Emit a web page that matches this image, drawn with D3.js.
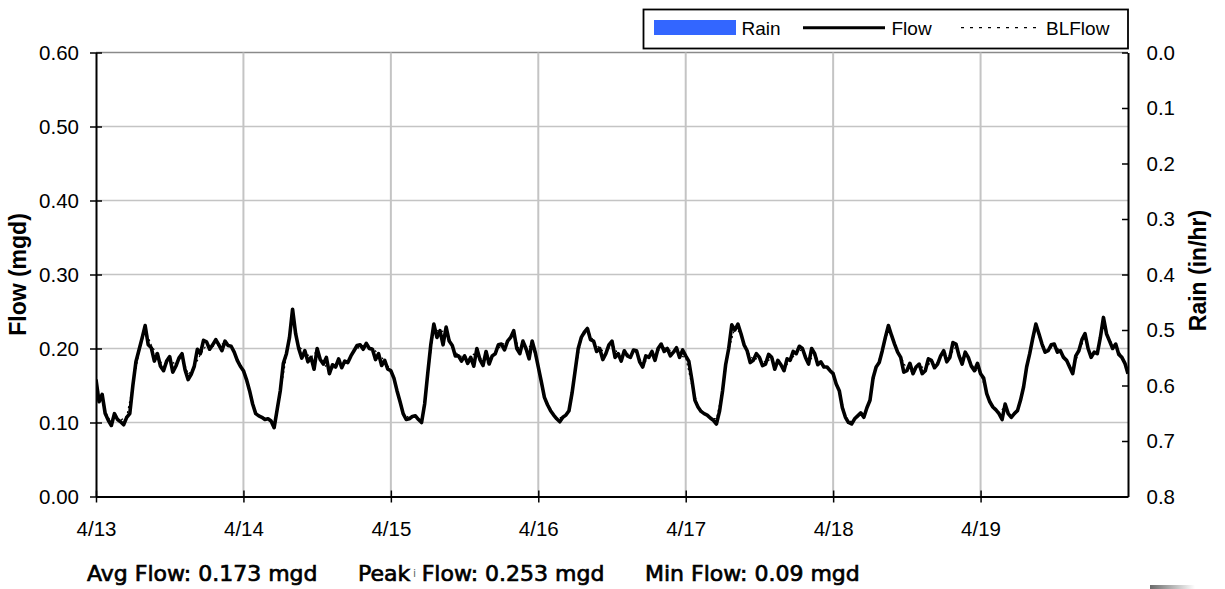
<!DOCTYPE html>
<html><head><meta charset="utf-8">
<script src="https://cdn.jsdelivr.net/npm/d3@7"></script>
<style>body{margin:0;background:#fff}svg{display:block}</style>
</head><body>
<svg id="c" width="1225" height="589"></svg>
<script>
// ---------------- DATA ----------------
const dayLabels = ["4/13","4/14","4/15","4/16","4/17","4/18","4/19"];
const flowTicks = [0.00,0.10,0.20,0.30,0.40,0.50,0.60];
const rainTicks = [0.0,0.1,0.2,0.3,0.4,0.5,0.6,0.7,0.8];
const seriesNames = ["Rain","Flow","BLFlow"];
const statTexts = ["Avg Flow: 0.173 mgd","Peak","Flow: 0.253 mgd","Min Flow: 0.09 mgd"];

// Flow (mgd), 30-minute readings per day
const flowDay1 = [0.158,0.128,0.138,0.112,0.103,0.096,0.112,0.104,0.101,0.097,0.107,0.112,
  0.150,0.182,0.198,0.214,0.231,0.205,0.201,0.183,0.193,0.176,0.170,0.183,
  0.189,0.168,0.176,0.187,0.193,0.171,0.158,0.165,0.176,0.199,0.193,0.211,
  0.209,0.199,0.205,0.212,0.205,0.197,0.210,0.204,0.203,0.195,0.184,0.176];
const flowDay2 = [0.170,0.158,0.143,0.125,0.112,0.109,0.107,0.104,0.105,0.102,0.093,0.118,
  0.143,0.180,0.193,0.215,0.253,0.220,0.200,0.187,0.197,0.182,0.188,0.172,
  0.200,0.185,0.179,0.188,0.166,0.178,0.175,0.186,0.174,0.183,0.181,0.190,
  0.197,0.204,0.205,0.199,0.207,0.200,0.199,0.185,0.193,0.177,0.184,0.172];
const flowDay3 = [0.170,0.160,0.143,0.128,0.112,0.104,0.105,0.108,0.109,0.104,0.100,0.125,
  0.166,0.205,0.233,0.215,0.224,0.205,0.229,0.210,0.204,0.190,0.190,0.183,
  0.190,0.180,0.188,0.176,0.200,0.185,0.177,0.196,0.179,0.190,0.193,0.205,
  0.206,0.198,0.210,0.215,0.224,0.200,0.193,0.210,0.200,0.186,0.210,0.195];
const flowDay4 = [0.175,0.155,0.134,0.124,0.116,0.110,0.105,0.101,0.107,0.110,0.116,0.140,
  0.170,0.200,0.215,0.222,0.227,0.212,0.210,0.196,0.200,0.185,0.193,0.205,
  0.210,0.188,0.193,0.183,0.197,0.190,0.188,0.198,0.197,0.182,0.175,0.190,
  0.188,0.196,0.184,0.200,0.206,0.196,0.200,0.190,0.195,0.201,0.188,0.198];
const flowDay5 = [0.190,0.183,0.158,0.130,0.121,0.115,0.112,0.110,0.106,0.103,0.098,0.115,
  0.143,0.178,0.200,0.232,0.225,0.233,0.220,0.205,0.197,0.181,0.184,0.193,
  0.188,0.177,0.179,0.192,0.188,0.172,0.184,0.178,0.170,0.186,0.184,0.196,
  0.193,0.203,0.200,0.188,0.179,0.200,0.193,0.178,0.182,0.175,0.175,0.170];
const flowDay6 = [0.166,0.152,0.143,0.120,0.107,0.100,0.098,0.105,0.109,0.113,0.107,0.120,
  0.130,0.160,0.175,0.181,0.197,0.215,0.231,0.218,0.206,0.195,0.188,0.168,
  0.170,0.180,0.166,0.175,0.179,0.166,0.170,0.186,0.184,0.174,0.179,0.190,
  0.197,0.182,0.188,0.208,0.206,0.190,0.179,0.195,0.188,0.176,0.170,0.180];
const flowDay7 = [0.166,0.160,0.139,0.128,0.121,0.117,0.112,0.104,0.125,0.112,0.107,0.112,
  0.116,0.130,0.148,0.175,0.193,0.214,0.233,0.220,0.206,0.195,0.197,0.205,
  0.206,0.195,0.197,0.188,0.184,0.175,0.166,0.190,0.197,0.212,0.220,0.200,
  0.188,0.195,0.193,0.215,0.242,0.220,0.210,0.200,0.206,0.192,0.188,0.180,0.166];

// Baseline flow (mgd), hourly per day
const blDay1 = [0.150,0.130,0.105,0.108,0.103,0.108,0.150,0.195,0.225,0.205,0.190,0.175,0.185,0.178,0.190,0.165,0.175,0.192,0.205,0.203,0.205,0.207,0.203,0.185];
const blDay2 = [0.170,0.145,0.113,0.107,0.105,0.098,0.140,0.190,0.240,0.203,0.195,0.188,0.197,0.180,0.170,0.176,0.177,0.182,0.196,0.203,0.205,0.200,0.193,0.183];
const blDay3 = [0.170,0.143,0.113,0.106,0.108,0.102,0.163,0.228,0.222,0.225,0.203,0.190,0.189,0.187,0.198,0.180,0.181,0.193,0.205,0.209,0.220,0.196,0.200,0.205];
const blDay4 = [0.176,0.135,0.116,0.106,0.107,0.116,0.170,0.213,0.225,0.210,0.200,0.194,0.207,0.192,0.196,0.190,0.196,0.178,0.188,0.187,0.204,0.199,0.196,0.190];
const blDay5 = [0.188,0.150,0.122,0.112,0.106,0.105,0.143,0.198,0.228,0.220,0.196,0.185,0.187,0.181,0.187,0.182,0.173,0.184,0.194,0.199,0.182,0.192,0.178,0.174];
const blDay6 = [0.167,0.143,0.108,0.100,0.108,0.110,0.130,0.174,0.197,0.226,0.205,0.189,0.172,0.168,0.178,0.172,0.183,0.180,0.195,0.190,0.203,0.183,0.188,0.172];
const blDay7 = [0.166,0.140,0.122,0.113,0.122,0.108,0.117,0.150,0.193,0.228,0.205,0.197,0.205,0.196,0.185,0.170,0.196,0.215,0.190,0.195,0.235,0.210,0.205,0.188,0.168];

// Rain (in/hr), daily – no rain in the period
const rainDaily = [0,0,0,0,0,0,0];

// ---------------- BUILD ----------------
const flowAll = [].concat(flowDay1,flowDay2,flowDay3,flowDay4,flowDay5,flowDay6,flowDay7)
  .map((v,i)=>({h:i*0.5, v}));
const blAll = [].concat(blDay1,blDay2,blDay3,blDay4,blDay5,blDay6,blDay7)
  .map((v,i)=>({h:i, v}));

const L=96, R=1128, T=52.5, B=496.5;
const svg = d3.select("#c");
const x = d3.scaleLinear().domain([0,168]).range([L,R]);
const y = d3.scaleLinear().domain([0,0.6]).range([B,T]);
const yr = d3.scaleLinear().domain([0,0.8]).range([T,B]);

const FONT = "'Liberation Sans', Arial, Helvetica, sans-serif";

// gridlines
const g = svg.append("g");
g.selectAll(".hg").data(flowTicks.filter(d=>d>0 && d<0.6)).join("line")
  .attr("x1",L).attr("x2",R).attr("y1",d=>y(d)).attr("y2",d=>y(d))
  .attr("stroke","#c4c4c4").attr("stroke-width",1.5);
g.append("line").attr("x1",L).attr("x2",R).attr("y1",y(0.6)).attr("y2",y(0.6))
  .attr("stroke","#8a8a8a").attr("stroke-width",1.5);
g.selectAll(".vg").data(dayLabels.slice(1).map((d,i)=>(i+1)*24)).join("line")
  .attr("x1",d=>x(d)).attr("x2",d=>x(d)).attr("y1",T).attr("y2",B)
  .attr("stroke","#c4c4c4").attr("stroke-width",2);

// rain bars (hang from top)
svg.append("g").selectAll("rect").data(rainDaily).join("rect")
  .attr("x",(d,i)=>x(i*24)).attr("width",x(24)-x(0)).attr("y",T)
  .attr("height",d=>yr(d)-yr(0)).attr("fill","#3366FF");

// clip
svg.append("clipPath").attr("id","pc").append("rect")
  .attr("x",L).attr("y",T-2).attr("width",R-L).attr("height",B-T+2);

const line = d3.line().x(d=>x(d.h)).y(d=>y(d.v));
svg.append("path").datum(blAll).attr("clip-path","url(#pc)")
  .attr("d",line).attr("fill","none").attr("stroke","#000")
  .attr("stroke-width",1.2).attr("stroke-dasharray","2,3");
svg.append("path").datum(flowAll).attr("clip-path","url(#pc)")
  .attr("d",line).attr("fill","none").attr("stroke","#000")
  .attr("stroke-width",3.6).attr("stroke-linejoin","round");

// axes
const axL = svg.append("g").attr("transform",`translate(${L},0)`)
  .call(d3.axisLeft(y).tickValues(flowTicks).tickFormat(d3.format(".2f"))
    .tickSizeInner(6).tickSizeOuter(0).tickPadding(11));
axL.selectAll(".tick line").attr("x1",6).attr("stroke-width",1.5);
axL.select(".domain").attr("stroke-width",2);

const axB = svg.append("g").attr("transform",`translate(0,${B})`)
  .call(d3.axisBottom(x).tickValues(dayLabels.map((d,i)=>i*24))
    .tickFormat((d,i)=>dayLabels[i]).tickSizeInner(6).tickSizeOuter(0).tickPadding(18.5));
axB.selectAll(".tick line").attr("y1",-6).attr("stroke-width",1.5);
axB.select(".domain").attr("stroke-width",2.2);

const axR = svg.append("g").attr("transform",`translate(${R},0)`)
  .call(d3.axisRight(yr).tickValues(rainTicks).tickFormat(d3.format(".1f"))
    .tickSizeInner(-6).tickSizeOuter(0).tickPadding(18.5));
axR.selectAll(".tick line").attr("stroke-width",1.5);
axR.select(".domain").attr("stroke-width",2);

svg.selectAll(".tick text").attr("font-family",FONT).attr("font-size",20.5).attr("fill","#000");
svg.selectAll(".domain, .tick line").attr("stroke","#000");

// axis titles
svg.append("text").attr("transform",`translate(26,${(T+B)/2}) rotate(-90)`)
  .attr("text-anchor","middle").attr("font-family",FONT).attr("font-weight","bold")
  .attr("font-size",23).text("Flow (mgd)");
svg.append("text").attr("transform",`translate(1206,${(T+B)/2-4}) rotate(-90)`)
  .attr("text-anchor","middle").attr("font-family",FONT).attr("font-weight","bold")
  .attr("font-size",23).text("Rain (in/hr)");

// legend
const lg = svg.append("g");
lg.append("rect").attr("x",643.5).attr("y",9.5).attr("width",484.5).attr("height",39)
  .attr("fill","#fff").attr("stroke","#000").attr("stroke-width",1.8);
lg.append("rect").attr("x",654).attr("y",20).attr("width",82).attr("height",15).attr("fill","#3366FF");
lg.append("line").attr("x1",803).attr("x2",885).attr("y1",27.7).attr("y2",27.7)
  .attr("stroke","#000").attr("stroke-width",3);
lg.append("line").attr("x1",961).attr("x2",1037).attr("y1",27.7).attr("y2",27.7)
  .attr("stroke","#000").attr("stroke-width",1.3).attr("stroke-dasharray","3,6");
[[741.5,seriesNames[0]],[891.5,seriesNames[1]],[1046,seriesNames[2]]].forEach(([px,t])=>{
  lg.append("text").attr("x",px).attr("y",34.5).attr("font-family",FONT)
    .attr("font-size",19).text(t);
});

// stats line
const SF = "'DejaVu Sans', Verdana, sans-serif";
const stX = [87,358,421.7,645];
statTexts.forEach((t,i)=>{
  svg.append("text").attr("x",stX[i]).attr("y",581).attr("font-family",SF)
    .attr("font-size",22).attr("fill","#000").attr("stroke","#000").attr("stroke-width",0.7)
    .text(t);
});
svg.append("text").attr("x",413).attr("y",577).attr("font-family",SF)
  .attr("font-size",11).attr("fill","#666").text("i");

// corner artifact
const grad = svg.append("defs").append("linearGradient").attr("id","gr");
grad.append("stop").attr("offset","0%").attr("stop-color","#6a6a6a");
grad.append("stop").attr("offset","100%").attr("stop-color","#ffffff");
svg.append("rect").attr("x",1150).attr("y",585).attr("width",45).attr("height",4).attr("fill","url(#gr)");
</script>
</body></html>
